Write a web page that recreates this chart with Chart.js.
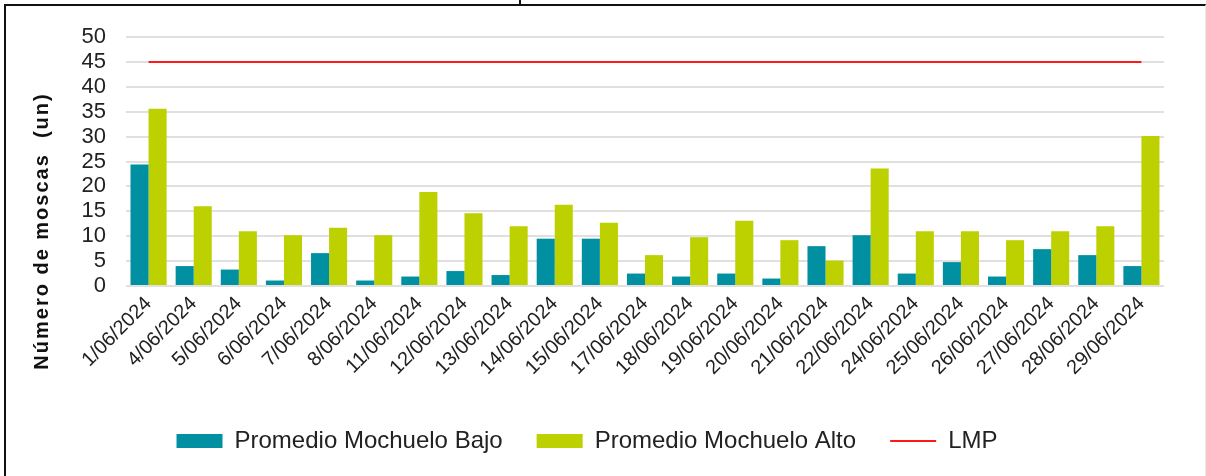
<!DOCTYPE html>
<html>
<head>
<meta charset="utf-8">
<script src="https://cdn.jsdelivr.net/npm/chart.js@4/dist/chart.umd.min.js"></script>
<style>
  html, body { margin: 0; padding: 0; background: #fff; }
  #wrap { position: relative; width: 1206px; height: 476px; overflow: hidden; }
  #frame {
    position: absolute; left: 4px; top: 4px; width: 1199px; height: 480px;
    border-top: 2px solid #111; border-left: 2px solid #111; border-right: 1px solid #e6e6e6;
    pointer-events: none;
  }
  #notch { position: absolute; left: 519px; top: 0; width: 2px; height: 5px; background: #111; }
  canvas { position: absolute; left: 0; top: 0; }
</style>
</head>
<body>
<div id="wrap">
  <canvas id="fliesChart" width="1206" height="476"></canvas>
  <div id="frame"></div>
  <div id="notch"></div>
</div>
<script>
'use strict';

// ---- Data ----
const fechas = ['1/06/2024', '4/06/2024', '5/06/2024', '6/06/2024', '7/06/2024', '8/06/2024',
  '11/06/2024', '12/06/2024', '13/06/2024', '14/06/2024', '15/06/2024', '17/06/2024',
  '18/06/2024', '19/06/2024', '20/06/2024', '21/06/2024', '22/06/2024', '24/06/2024',
  '25/06/2024', '26/06/2024', '27/06/2024', '28/06/2024', '29/06/2024'];
const mochueloBajo = [24.4, 4.0, 3.3, 1.1, 6.6, 1.1, 1.9, 3.0, 2.2, 9.5, 9.5, 2.5,
  1.9, 2.5, 1.5, 8.0, 10.2, 2.5, 4.8, 1.9, 7.4, 6.2, 4.0];
const mochueloAlto = [35.6, 16.0, 11.0, 10.2, 11.7, 10.2, 18.9, 14.6, 12.0, 16.3, 12.7, 6.2,
  9.8, 13.1, 9.2, 5.1, 23.6, 11.0, 11.0, 9.2, 11.0, 12.0, 30.1];
const lmp = fechas.map(() => 45);
const yTicks = [0, 5, 10, 15, 20, 25, 30, 35, 40, 45, 50];
const yTitle = 'Número de moscas  (un)';

const FONT = '"Liberation Sans", Arial, sans-serif';

// rotated y title, centred on the plot + date labels like the original
const yTitlePlugin = {
  id: 'yTitle',
  afterDraw(chart) {
    const c = chart.ctx;
    c.save();
    c.translate(chart.chartArea.left - 84, 231);
    c.rotate(-Math.PI / 2);
    c.font = 'bold 20px ' + FONT;
    c.letterSpacing = '2px';
    c.fillStyle = '#111';
    c.textAlign = 'center';
    c.textBaseline = 'middle';
    c.fillText(yTitle, 0, 0);
    c.restore();
  },
};

const styles = ['rect', 'rect', 'line'];

new Chart(document.getElementById('fliesChart'), {
  type: 'bar',
  data: {
    labels: fechas,
    datasets: [
      {
        label: 'Promedio Mochuelo Bajo',
        data: mochueloBajo,
        backgroundColor: '#0090A2',
        borderWidth: 0,
        categoryPercentage: 0.8,
        barPercentage: 1.0,
      },
      {
        label: 'Promedio Mochuelo Alto',
        data: mochueloAlto,
        backgroundColor: '#BDD000',
        borderWidth: 0,
        categoryPercentage: 0.8,
        barPercentage: 1.0,
      },
      {
        type: 'line',
        label: 'LMP',
        data: lmp,
        borderColor: '#FF1A1A',
        backgroundColor: '#FF1A1A',
        borderWidth: 2,
        pointRadius: 0,
        fill: false,
      },
    ],
  },
  options: {
    responsive: false,
    animation: false,
    layout: { padding: { left: 10, right: 42, top: 37, bottom: 13 } },
    plugins: {
      tooltip: { enabled: false },
      legend: {
        position: 'bottom',
        maxHeight: 70,
        labels: {
          color: '#222',
          font: { size: 24, family: FONT },
          usePointStyle: true,
          pointStyleWidth: 46,
          boxHeight: 14,
          padding: 34,
          generateLabels: chart => {
            const items = Chart.defaults.plugins.legend.labels.generateLabels(chart);
            return items.map(it => Object.assign(it, {
              pointStyle: styles[it.datasetIndex],
              lineWidth: it.datasetIndex === 2 ? 2 : 0,
            }));
          },
        },
      },
    },
    scales: {
      x: {
        grid: { display: false, drawTicks: false },
        border: { display: false },
        ticks: {
          color: '#222',
          font: { size: 20, family: FONT },
          minRotation: 45,
          maxRotation: 45,
          autoSkip: false,
          padding: 6,
        },
        afterFit: s => { s.height = 109; },
      },
      y: {
        min: 0,
        max: 50,
        grid: { color: '#e0e0e0', lineWidth: 2, drawTicks: false },
        border: { display: false },
        afterBuildTicks: s => { s.ticks = yTicks.map(v => ({ value: v })); },
        ticks: { color: '#222', font: { size: 22, family: FONT }, padding: 20, autoSkip: false },
        afterFit: s => { s.width = 116; },
      },
    },
  },
  plugins: [yTitlePlugin],
});
</script>
</body>
</html>
